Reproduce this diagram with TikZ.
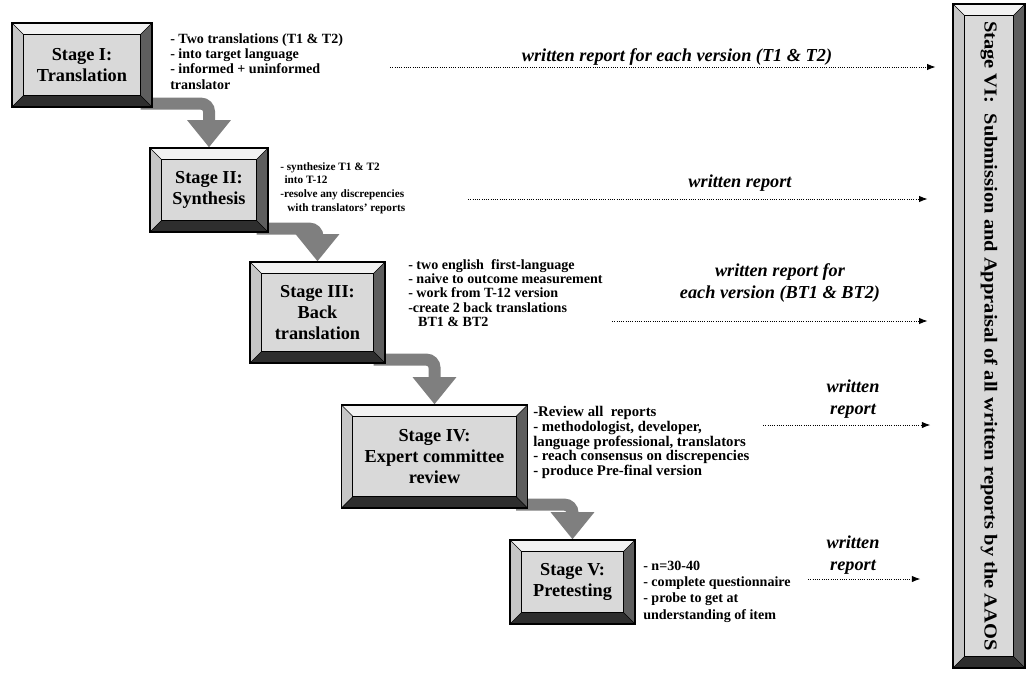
\documentclass[tikz,border=0pt]{standalone}
\usepackage{fontspec}
\setmainfont{Liberation Serif}
\usetikzlibrary{arrows.meta,backgrounds}
\definecolor{face}{HTML}{D9D9D9}
\definecolor{bevtop}{HTML}{F2F2F2}
\definecolor{bevleft}{HTML}{C6C6C6}
\definecolor{bevright}{HTML}{5E5E5E}
\definecolor{bevbot}{HTML}{2E2E2E}
\definecolor{band}{HTML}{7F7F7F}
\newcommand{\bw}{0.28cm}

\begin{document}
\begin{tikzpicture} [
   x=0.025cm, y=-0.025cm,
   stage/.style={rectangle, draw, line width=0.9pt, fill=face, inner sep=0pt,
      align=center, font=\bfseries\fontsize{13}{15}\selectfont,
      path picture={
         \path (path picture bounding box.south west) coordinate (sw)
               (path picture bounding box.north east) coordinate (ne)
               (path picture bounding box.north west) coordinate (nw)
               (path picture bounding box.south east) coordinate (se)
               ([shift={(\bw,\bw)}]sw) coordinate (isw)
               ([shift={(-\bw,-\bw)}]ne) coordinate (ine)
               (isw|-ine) coordinate (inw)
               (ine|-isw) coordinate (ise);
         \fill[bevtop] (nw) -- (ne) -- (ine) -- (inw) -- cycle;
         \fill[bevleft] (nw) -- (inw) -- (isw) -- (sw) -- cycle;
         \fill[bevright] (ne) -- (se) -- (ise) -- (ine) -- cycle;
         \fill[bevbot] (sw) -- (isw) -- (ise) -- (se) -- cycle;
         \draw[line width=0.6pt] (inw) rectangle (ise);
         \draw[line width=0.4pt] (nw) -- (inw) (ne) -- (ine) (sw) -- (isw) (se) -- (ise);
      }},
   desc/.style={anchor=north west, align=left, inner sep=0pt,
      font=\bfseries\fontsize{10}{11}\selectfont},
   rlabel/.style={align=center, inner sep=0pt,
      font=\bfseries\itshape\fontsize{13}{16}\selectfont},
   report/.style={densely dotted, line width=0.6pt, -{Latex[length=6pt,width=4.5pt]}},
   flow/.style={draw=band, line width=0.3cm, rounded corners=0.2cm,
      -{Triangle[width=1.05cm,length=0.68cm]}}
]
   \useasboundingbox (0,0) rectangle (1031,675);

   % stages
   \node (stI) [stage, minimum width=3.5cm, minimum height=2.1cm] at (82,65)
      {Stage I:\\Translation};
   \node (stII) [stage, minimum width=2.95cm, minimum height=2.1cm] at (209,190)
      {Stage II:\\Synthesis};
   \node (stIII) [stage, minimum width=3.375cm, minimum height=2.525cm] at (317.5,312.5)
      {Stage III:\\Back\\translation};
   \node (stIV) [stage, minimum width=4.65cm, minimum height=2.575cm] at (434.5,456.5)
      {Stage IV:\\Expert committee\\review};
   \node (stV) [stage, minimum width=3.125cm, minimum height=2.1cm] at (572.5,582)
      {Stage V:\\Pretesting};
   \node (stVI) [stage, minimum width=1.8cm, minimum height=16.6cm] at (989,336)
      {\rotatebox{-90}{\scalebox{1.12}[1]{Stage VI:\ \ Submission and Appraisal of all written reports by the AAOS}}};

   % what each stage does
   \node (dI) [desc, font=\bfseries\fontsize{10}{11}\selectfont] at (170,33)
      {- Two translations (T1 \& T2)\\- into target language\\- informed + uninformed\\translator};
   \node (dII) [desc, font=\bfseries\fontsize{8}{9.8}\selectfont] at (280,162)
      {- synthesize T1 \& T2\\\hspace{3pt}into T-12\\-resolve any discrepencies\\\hspace{5pt}with translators' reports};
   \node (dIII) [desc, font=\bfseries\fontsize{10}{10.2}\selectfont] at (408,259)
      {- two english\ \ first-language\\- naive to outcome measurement\\- work from T-12 version\\-create 2 back translations\\\hspace{7pt}BT1 \& BT2};
   \node (dIV) [desc, font=\bfseries\fontsize{10.5}{10.5}\selectfont] at (533,406)
      {-Review all\ \ reports\\- methodologist, developer,\\language professional, translators\\- reach consensus on discrepencies\\- produce Pre-final version};
   \node (dV) [desc, font=\bfseries\fontsize{10}{11.5}\selectfont] at (643,561)
      {- n=30-40\\- complete questionnaire\\- probe to get at\\understanding of item};

   % reports going to stage VI
   \coordinate (r1) at (390,67);
   \coordinate (r2) at (468,199);
   \coordinate (r3) at (612,321);
   \coordinate (r4) at (763,425);
   \coordinate (r5) at (808,579);
   \draw[report, shorten >=0.42cm] (r1) -- (r1 -| stVI.west);
   \draw[report, shorten >=0.62cm] (r2) -- (r2 -| stVI.west);
   \draw[report, shorten >=0.62cm] (r3) -- (r3 -| stVI.west);
   \draw[report, shorten >=0.55cm] (r4) -- (r4 -| stVI.west);
   \draw[report, shorten >=0.8cm] (r5) -- (r5 -| stVI.west);
   \node (w1) [rlabel] at (677,57) {written report for each version (T1 \& T2)};
   \node (w2) [rlabel] at (740,183) {written report};
   \node (w3) [rlabel] at (780,283) {written report for\\each version (BT1 \& BT2)};
   \node (w4) [rlabel] at (853,399) {written\\report};
   \node (w5) [rlabel] at (853,555) {written\\report};

   % grey arrows from stage to stage
   \begin{scope}[on background layer]
      \draw[flow] ([xshift=-0.3cm,yshift=0.1cm]stI.south east) -| (stII.north);
      \draw[flow] ([xshift=-0.3cm,yshift=0.1cm]stII.south east) -| (stIII.north);
      \draw[flow] ([xshift=-0.3cm,yshift=0.1cm]stIII.south east) -| (stIV.north);
      \draw[flow] ([xshift=-0.3cm,yshift=0.1cm]stIV.south east) -| (stV.north);
   \end{scope}
\end{tikzpicture}
\end{document}
